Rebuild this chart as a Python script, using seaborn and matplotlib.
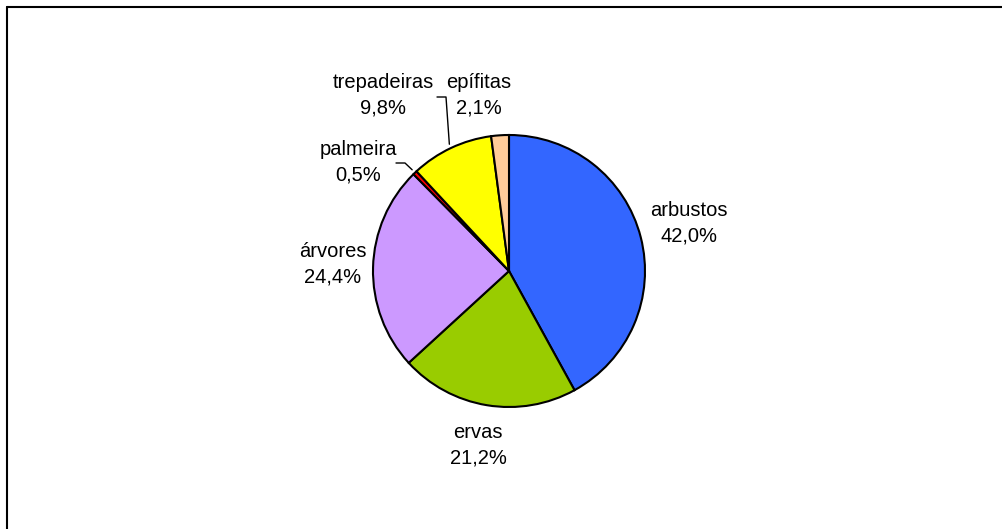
import numpy as np
import matplotlib
matplotlib.use("Agg")
import matplotlib.pyplot as plt
from matplotlib.lines import Line2D
import seaborn as sns

# data
categories = ["arbustos", "ervas", "árvores", "palmeira", "trepadeiras", "epífitas"]
shares = [42.0, 21.2, 24.4, 0.5, 9.8, 2.1]
colors = ["#3366FF", "#99CC00", "#CC99FF", "#FF0000", "#FFFF00", "#FFCC99"]

# label placement in pixels (x, y from top)
label_pos = {
    "arbustos": (689, 223),
    "ervas": (478, 445),
    "árvores": (333, 264),
    "palmeira": (358, 162),
    "trepadeiras": (383, 95),
    "epífitas": (479, 95),
}
# leader elbows for the small slices
leaders = {
    "palmeira": [(396, 163), (405, 163)],
    "trepadeiras": [(437, 97), (446, 97)],
}

W, H = 1002, 529
sns.set_theme(style="white")
plt.rcParams["font.family"] = ["Liberation Sans", "DejaVu Sans"]

fig = plt.figure(figsize=(W / 100, H / 100), dpi=100)
ax = fig.add_axes([0, 0, 1, 1])

cx, cy, R = 509, H - 271, 136
wedges, _ = ax.pie(shares, colors=colors, startangle=90, counterclock=False,
                   center=(cx, cy), radius=R, frame=True,
                   wedgeprops=dict(edgecolor="black", linewidth=1.5))
ax.set_xlim(0, W)
ax.set_ylim(0, H)
ax.set_aspect("equal")
ax.axis("off")

for name, val, w in zip(categories, shares, wedges):
    x, y = label_pos[name]
    txt = f"{name}\n{val:.1f}%".replace(".", ",")
    ax.text(x, H - y, txt, ha="center", va="center", fontsize=14.5,
            linespacing=1.45, color="black")
    if name in leaders:
        mid = np.deg2rad((w.theta1 + w.theta2) / 2)
        ex, ey = cx + 1.03 * R * np.cos(mid), cy + 1.03 * R * np.sin(mid)
        pts = leaders[name] + [(ex, H - ey)]
        xs = [p[0] for p in pts]
        ys = [H - p[1] for p in pts]
        ax.plot(xs, ys, color="black", lw=1.0)

# outer chart frame (top and left edges only visible)
fig.add_artist(Line2D([7 / W, 1], [1 - 7 / H, 1 - 7 / H], color="black", lw=1.5,
                      transform=fig.transFigure))
fig.add_artist(Line2D([7 / W, 7 / W], [0, 1 - 7 / H], color="black", lw=1.5,
                      transform=fig.transFigure))

fig.savefig("out.png", dpi=100)
